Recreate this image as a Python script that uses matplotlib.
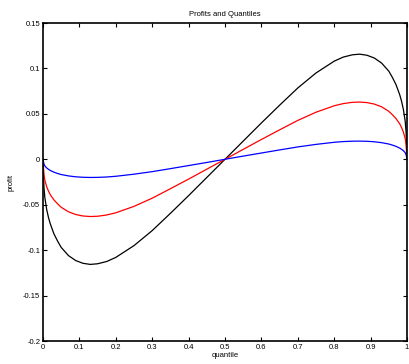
import matplotlib
matplotlib.use("Agg")
import matplotlib.pyplot as plt

quantile = [0, 0.0025, 0.005, 0.01, 0.015, 0.02, 0.03, 0.04, 0.05, 0.07, 0.09, 0.11, 0.13,
            0.15, 0.175, 0.2, 0.25, 0.3, 0.35, 0.4, 0.45, 0.5, 0.55, 0.6, 0.65, 0.7, 0.75,
            0.8, 0.825, 0.85, 0.87, 0.89, 0.91, 0.93, 0.95, 0.96, 0.97, 0.98, 0.985, 0.99,
            0.995, 0.9975, 1]

profit_black = [0, -0.030, -0.042, -0.055, -0.064, -0.071, -0.082, -0.090, -0.097, -0.106,
                -0.1115, -0.1145, -0.1157, -0.1150, -0.1125, -0.1080, -0.0950, -0.0785,
                -0.0595, -0.0400, -0.0200, 0, 0.0200, 0.0400, 0.0595, 0.0785, 0.0950,
                0.1080, 0.1125, 0.1150, 0.1157, 0.1145, 0.1115, 0.106, 0.097, 0.090,
                0.082, 0.071, 0.064, 0.055, 0.042, 0.030, 0]

profit_red = [0, -0.016, -0.023, -0.030, -0.035, -0.039, -0.0447, -0.049, -0.0528, -0.0578,
              -0.0608, -0.0624, -0.0630, -0.0627, -0.0613, -0.0589, -0.0518, -0.0428,
              -0.0324, -0.0218, -0.0109, 0, 0.0109, 0.0218, 0.0324, 0.0428, 0.0518,
              0.0589, 0.0613, 0.0627, 0.0630, 0.0624, 0.0608, 0.0578, 0.0528, 0.049,
              0.0447, 0.039, 0.035, 0.030, 0.023, 0.016, 0]

profit_blue = [0, -0.0050, -0.0073, -0.0095, -0.0110, -0.0123, -0.0142, -0.0156, -0.0168,
               -0.0183, -0.0193, -0.0198, -0.0200, -0.0199, -0.0195, -0.0187, -0.0164,
               -0.0136, -0.0103, -0.0069, -0.0035, 0, 0.0035, 0.0069, 0.0103, 0.0136,
               0.0164, 0.0187, 0.0195, 0.0199, 0.0200, 0.0198, 0.0193, 0.0183, 0.0168,
               0.0156, 0.0142, 0.0123, 0.0110, 0.0095, 0.0073, 0.0050, 0]

xticks = [0, 0.1, 0.2, 0.3, 0.4, 0.5, 0.6, 0.7, 0.8, 0.9, 1]
xtick_labels = ["0", "0.1", "0.2", "0.3", "0.4", "0.5", "0.6", "0.7", "0.8", "0.9", "1"]
yticks = [-0.2, -0.15, -0.1, -0.05, 0, 0.05, 0.1, 0.15]
ytick_labels = ["-0.2", "-0.15", "-0.1", "-0.05", "0", "0.05", "0.1", "0.15"]

plt.rcParams['font.family'] = ['Liberation Sans', 'DejaVu Sans']

fig = plt.figure(figsize=(4.10, 3.64), dpi=100)
ax = fig.add_axes([43/410, 23/364, 364/410, 318/364])

ax.plot(quantile, profit_black, color='black', lw=0.9)
ax.plot(quantile, profit_red, color='red', lw=0.9)
ax.plot(quantile, profit_blue, color='blue', lw=0.9)

ax.set_xlim(0, 1)
ax.set_ylim(-0.2, 0.15)
ax.set_xticks(xticks)
ax.set_xticklabels(xtick_labels)
ax.set_yticks(yticks)
ax.set_yticklabels(ytick_labels)
ax.tick_params(direction='in', length=3, width=0.8, labelsize=5.5, top=True, right=True,
               pad=2)
for s in ax.spines.values():
    s.set_linewidth(1.2)

ax.set_title("Profits and Quantiles", fontsize=5.5, pad=5)
ax.set_xlabel("quantile", fontsize=5.5, labelpad=1)
ax.set_ylabel("profit", fontsize=5.5, labelpad=6)

fig.savefig("out.png", dpi=100)
